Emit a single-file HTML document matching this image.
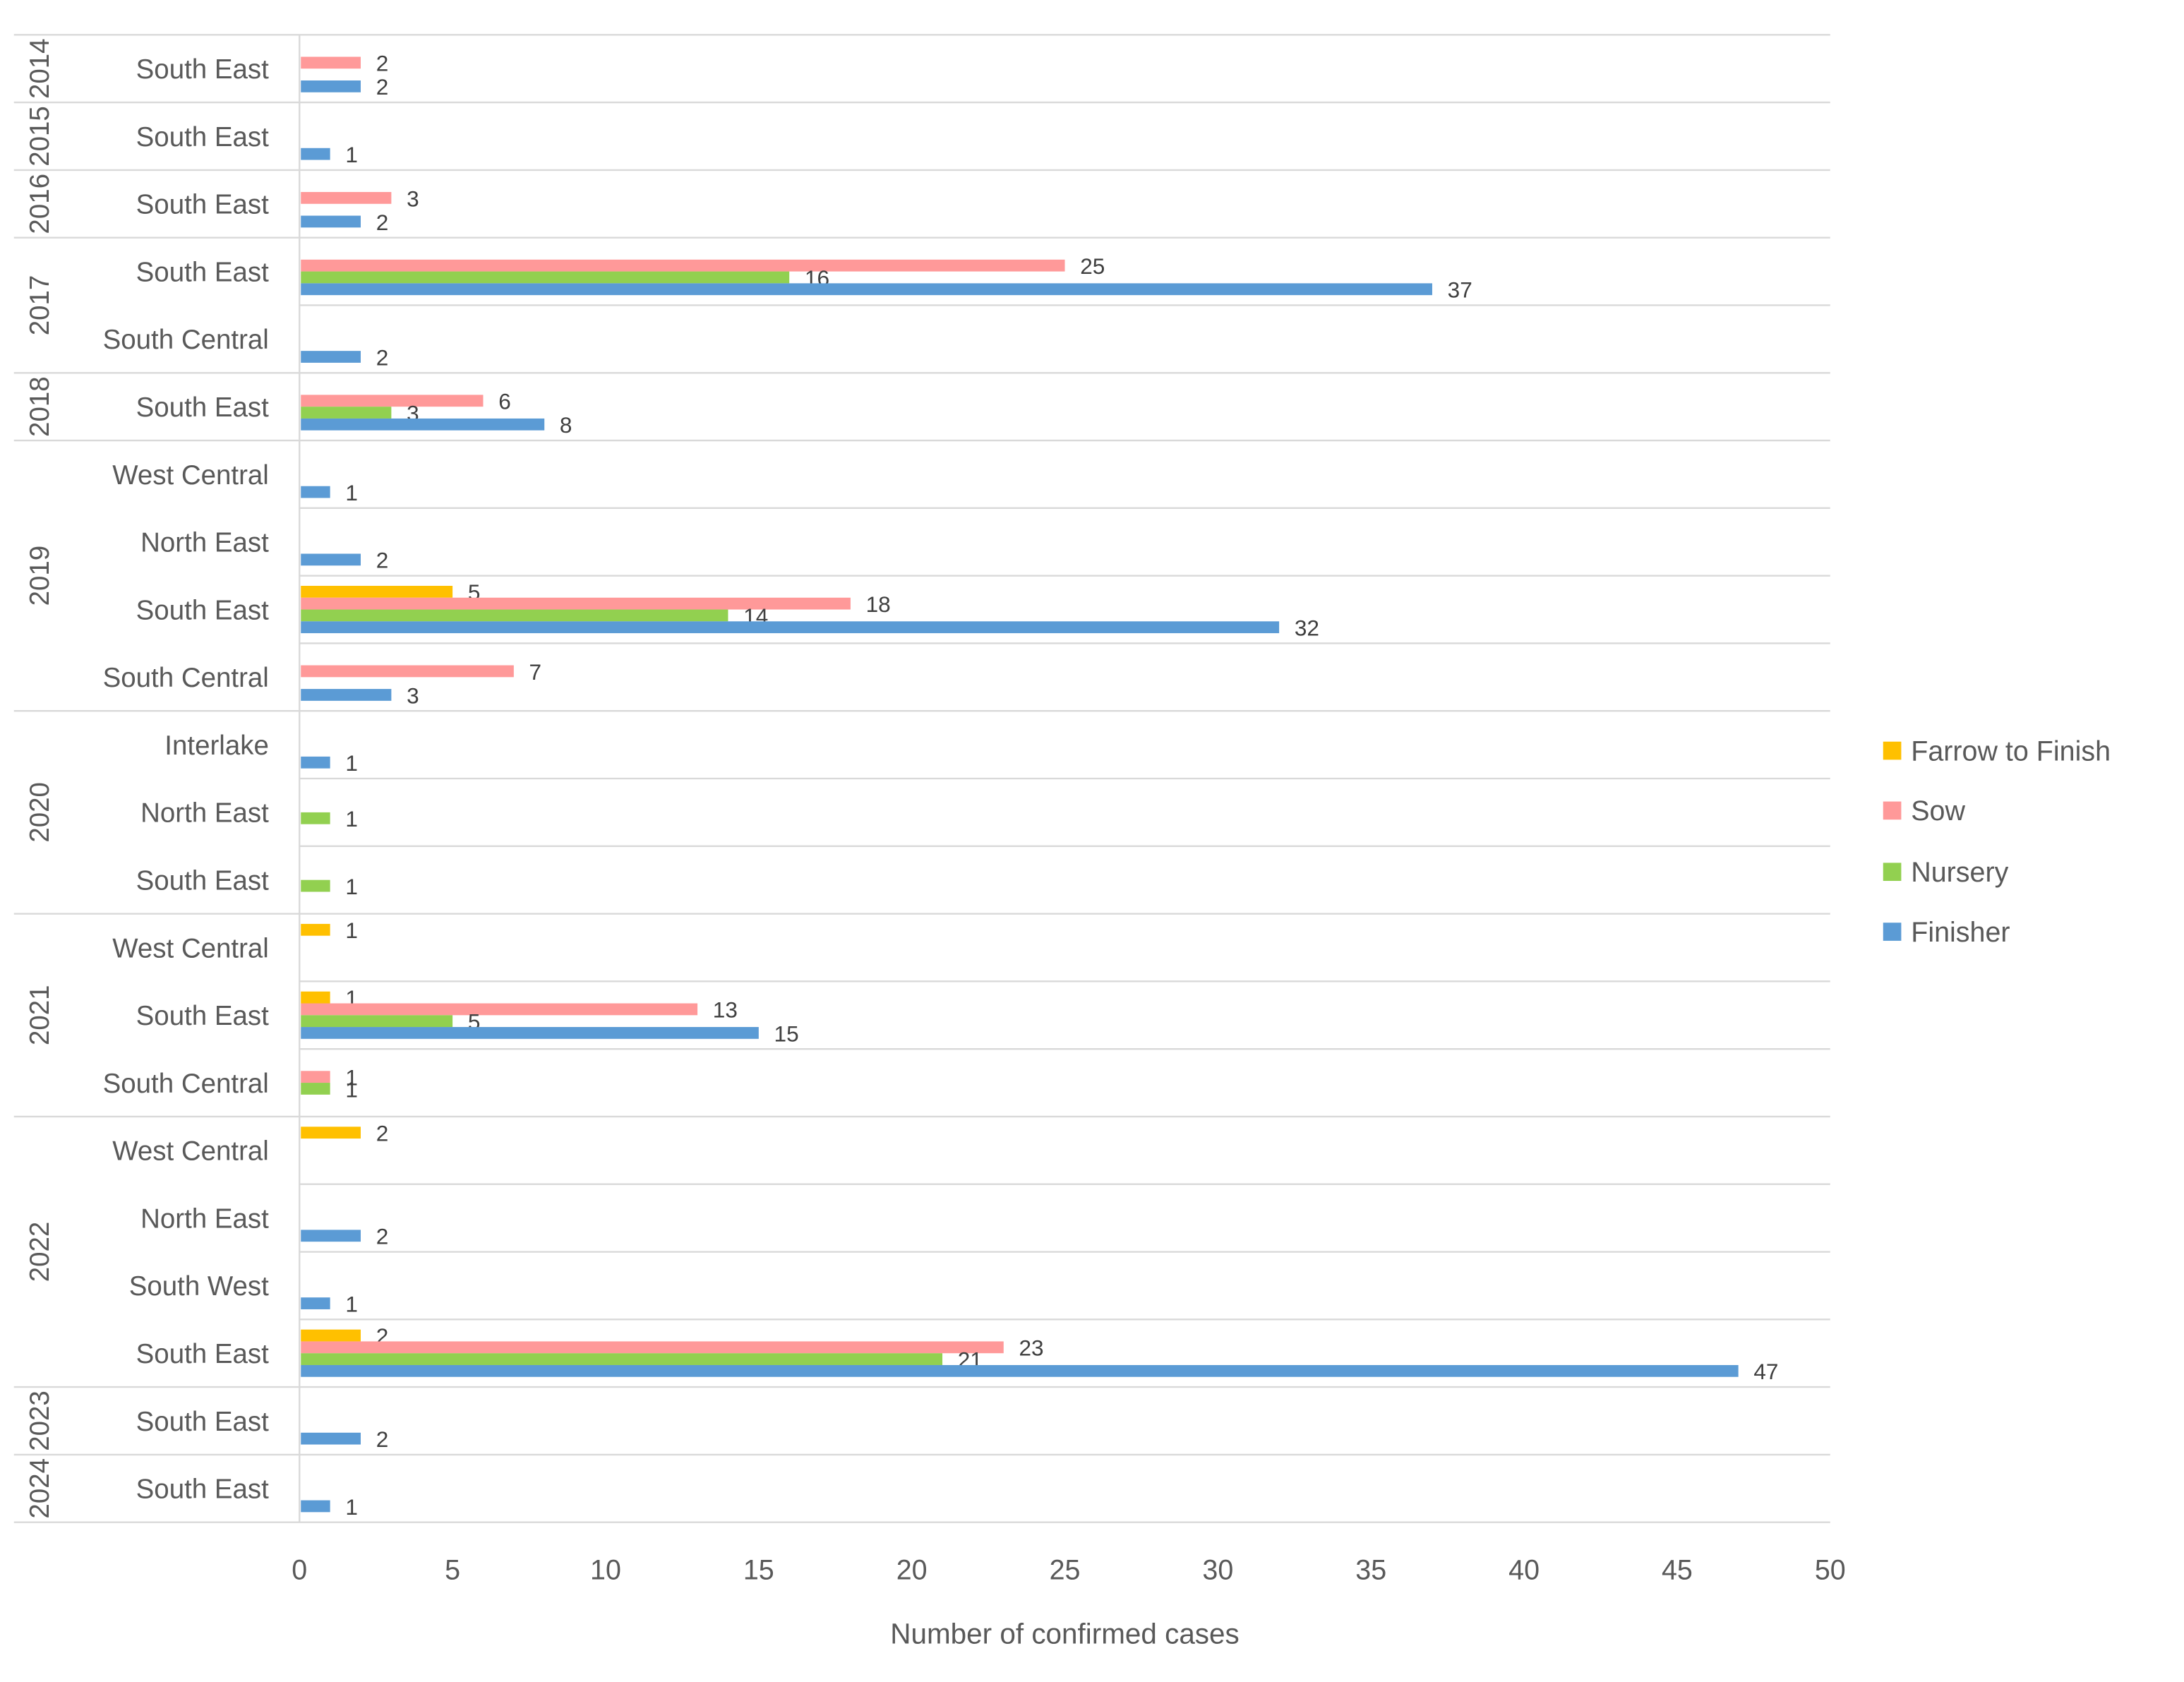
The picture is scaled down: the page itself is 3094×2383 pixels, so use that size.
<!DOCTYPE html>
<html><head><meta charset="utf-8"><style>
html,body{margin:0;padding:0;background:#fff;}
svg{display:block;font-family:"Liberation Sans",sans-serif;}
</style></head><body>
<svg id="chart" width="3094" height="2383" viewBox="0 0 1568 1207.7" xmlns="http://www.w3.org/2000/svg"></svg>
<script>
const regions = ["South East","South East","South East","South East","South Central","South East","West Central","North East","South East","South Central","Interlake","North East","South East","West Central","South East","South Central","West Central","North East","South West","South East","South East","South East"];
const years = ["2014","2015","2016","2017","2018","2019","2020","2021","2022","2023","2024"];
const yearStart = [0,1,2,3,5,6,10,13,16,20,21];
const yearEnd = [1,2,3,5,6,10,13,16,20,21,22];
const seriesNames = ["Farrow to Finish","Sow","Nursery","Finisher"];
const farrow = [null,null,null,null,null,null,null,null,5,null,null,null,null,1,1,null,2,null,null,2,null,null];
const sow = [2,null,3,25,null,6,null,null,18,7,null,null,null,null,13,1,null,null,null,23,null,null];
const nursery = [null,null,null,16,null,3,null,null,14,null,null,1,1,null,5,1,null,null,null,21,null,null];
const finisher = [2,1,2,37,2,8,1,2,32,3,1,null,null,null,15,null,null,2,1,47,2,1];
const xTicks = [0,5,10,15,20,25,30,35,40,45,50];

const colors = ["#FFC000","#FF9999","#92D050","#5B9BD5"];
const NS = "http://www.w3.org/2000/svg";
const svg = document.getElementById("chart");
const X0 = 215, X1 = 1314, Y0 = 25, Y1 = 1093, XMAX = 50;
const rowH = (Y1 - Y0) / regions.length;
const xs = v => X0 + (v / XMAX) * (X1 - X0);
const rowTop = i => Y0 + i * rowH;
const rowC = i => Y0 + (i + 0.5) * rowH;
const BH = 8.5;
function mk(tag, attrs, text) {
  const e = document.createElementNS(NS, tag);
  for (const k in attrs) e.setAttribute(k, attrs[k]);
  if (text !== undefined) e.textContent = text;
  svg.appendChild(e);
  return e;
}
// gridlines: within-group row separators
for (let i = 0; i <= regions.length; i++) {
  const isYear = yearStart.includes(i) || i === regions.length;
  const l = mk("line", {x1: isYear ? 10 : X0, x2: X1, y1: rowTop(i), y2: rowTop(i), stroke: "#D9D9D9", "stroke-width": 1.2});
  
  
}
const ax = mk("line", {x1: X0, x2: X0, y1: Y0, y2: Y1, stroke: "#D9D9D9", "stroke-width": 1.2});


// x ticks
xTicks.forEach(t => {
  const e = mk("text", {x: xs(t), y: 1134, "text-anchor": "middle", "font-size": 20, fill: "#595959"}, String(t));
  
  
});
const xt = mk("text", {x: (X0 + X1) / 2, y: 1180, "text-anchor": "middle", "font-size": 20.5, fill: "#595959"}, "Number of confirmed cases");


// region labels
regions.forEach((r, i) => {
  const e = mk("text", {x: 193, y: rowC(i) + 7, "text-anchor": "end", "font-size": 19.5, fill: "#595959"}, r);
  
  
});
// year labels
years.forEach((y, k) => {
  const cy = (rowTop(yearStart[k]) + rowTop(yearEnd[k])) / 2;
  const e = mk("text", {x: 0, y: 0, "text-anchor": "middle", "font-size": 19.5, fill: "#595959", transform: `translate(35,${cy}) rotate(-90)`}, y);
  
  
});
// bars
const series = [farrow, sow, nursery, finisher];
series.forEach((arr, s) => {
  arr.forEach((v, i) => {
    if (v === null) return;
    const cy = rowC(i) + (s - 1.5) * BH;
    const b = mk("rect", {x: X0 + 1, y: cy - BH / 2, width: xs(v) - X0 - 1, height: BH, fill: colors[s]});
    
    
    const t = mk("text", {x: xs(v) + 11, y: cy + 6, "font-size": 16, fill: "#404040"}, String(v));
    
    
  });
});
// legend
const legY = [539, 582, 626, 669];
seriesNames.forEach((n, s) => {
  const r = mk("rect", {x: 1352, y: legY[s] - 6.5, width: 13, height: 13, fill: colors[s]});
  
  
  const t = mk("text", {x: 1372, y: legY[s] + 7, "font-size": 20, fill: "#595959"}, n);
  
  
});
</script>
</body></html>
